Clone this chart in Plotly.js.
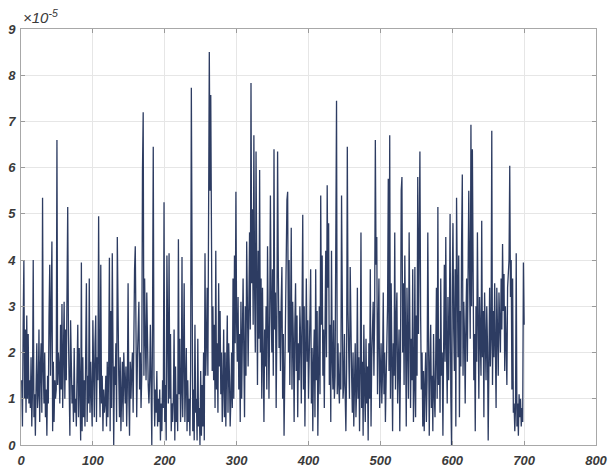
<!DOCTYPE html>
<html>
<head>
<meta charset="utf-8">
<script src="https://cdn.plot.ly/plotly-3.0.1.min.js"></script>
<style>
  html, body { margin: 0; padding: 0; background: #fff; }
  #chart { width: 608px; height: 470px; }
</style>
</head>
<body>
<div id="chart"></div>
<script>
// Signal amplitude per sample, in units of 1e-5 (samples 1..700)
const amplitudeE5 = [
  1.4, 0.4, 2.6, 4.0, 1.0, 2.5, 0.7, 2.8, 1.0, 2.4,
  0.9, 1.4, 0.8, 1.9, 0.4, 1.2, 4.0, 0.6, 1.1, 0.2,
  1.3, 2.2, 0.8, 1.1, 2.5, 0.5, 1.7, 2.2, 0.7, 5.35,
  1.6, 0.9, 2.0, 0.6, 1.2, 0.2, 1.5, 0.9, 2.8, 3.9,
  1.5, 2.9, 4.4, 0.3, 1.8, 0.5, 1.4, 1.0, 1.2, 6.6,
  1.3, 2.0, 1.7, 0.9, 2.6, 1.2, 3.05, 0.8, 1.6, 3.1,
  1.0, 2.5, 1.4, 3.3, 5.15, 2.4, 1.0, 0.2, 2.7, 1.1,
  0.9, 1.3, 0.5, 2.1, 0.7, 1.0, 0.4, 1.6, 2.6, 0.6,
  2.1, 1.2, 0.1, 3.95, 0.3, 1.9, 0.6, 1.4, 0.4, 2.0,
  3.5, 0.5, 1.5, 0.9, 3.6, 0.7, 1.8, 1.1, 0.4, 2.7,
  1.0, 0.6, 2.2, 2.8, 0.5, 1.9, 1.4, 4.95, 1.6, 0.6,
  3.9, 0.9, 1.5, 0.3, 1.2, 0.7, 0.9, 1.5, 0.4, 1.8,
  0.6, 1.7, 4.05, 0.3, 2.9, 0.8, 4.15, 1.2, 0.0, 1.7,
  1.3, 2.2, 0.5, 4.5, 1.7, 1.5, 0.6, 1.9, 0.3, 1.1,
  1.8, 0.5, 2.0, 1.4, 0.9, 1.7, 0.4, 1.3, 3.5, 1.1,
  0.2, 1.8, 1.0, 1.6, 2.0, 0.7, 2.7, 3.8, 4.3, 1.8,
  0.6, 1.9, 2.6, 3.1, 1.2, 2.0, 0.8, 1.5, 5.9, 7.2,
  1.5, 3.6, 2.3, 1.4, 3.3, 1.6, 1.3, 0.9, 1.4, 2.6,
  1.5, 0.0, 2.6, 6.45, 1.5, 0.4, 1.2, 0.7, 1.6, 0.4,
  1.0, 0.5, 1.2, 0.1, 0.9, 0.3, 1.4, 0.8, 5.25, 0.5,
  1.3, 0.1, 4.1, 1.8, 0.9, 4.15, 1.0, 2.4, 0.3, 0.9,
  0.5, 1.0, 2.5, 0.1, 1.7, 0.5, 1.1, 0.3, 4.45, 1.1,
  2.3, 0.5, 1.1, 4.07, 0.6, 1.8, 3.5, 0.5, 1.1, 2.1,
  0.3, 1.4, 0.5, 1.0, 0.2, 1.6, 7.73, 0.8, 0.3, 1.2,
  0.1, 2.6, 0.7, 1.0, 0.1, 2.3, 0.4, 0.8, 0.0, 1.6,
  0.2, 1.3, 0.4, 2.0, 0.1, 4.15, 1.5, 2.2, 3.4, 1.5,
  5.6, 8.5, 5.5, 7.57, 4.6, 1.6, 3.0, 1.4, 2.6, 0.8,
  4.2, 1.2, 2.2, 0.7, 3.5, 1.7, 2.9, 1.1, 2.0, 0.5,
  1.3, 2.5, 0.6, 2.0, 0.4, 1.2, 2.8, 0.7, 2.2, 1.5,
  0.4, 1.0, 2.0, 0.8, 3.6, 1.0, 4.1, 2.2, 5.48, 2.6,
  1.8, 3.2, 1.2, 2.4, 0.5, 3.1, 1.0, 2.3, 3.6, 2.0,
  0.6, 3.0, 1.5, 4.4, 2.8, 1.7, 3.0, 4.6, 2.5, 7.83,
  3.5, 5.1, 2.6, 6.7, 3.4, 2.0, 6.35, 2.9, 1.3, 4.2,
  2.3, 5.95, 2.0, 3.6, 1.0, 3.4, 2.1, 0.5, 2.5, 1.7,
  3.0, 1.2, 4.3, 2.2, 1.0, 2.8, 5.4, 3.1, 2.0, 3.8,
  1.5, 6.4, 2.5, 3.3, 0.8, 2.6, 6.35, 3.8, 2.1, 2.9,
  1.6, 3.1, 3.85, 1.0, 2.4, 0.2, 1.8, 2.5, 3.9, 5.3,
  5.48, 2.0, 4.0, 1.3, 2.6, 4.7, 1.2, 3.1, 2.2, 0.5,
  2.6, 3.5, 1.6, 2.8, 0.6, 2.2, 1.4, 3.0, 2.3, 0.9,
  2.9, 4.98, 1.2, 3.0, 0.4, 2.4, 3.6, 1.8, 2.7, 1.0,
  1.6, 2.8, 3.8, 0.9, 2.1, 0.3, 1.8, 2.5, 0.6, 3.8,
  1.4, 2.9, 0.2, 2.2, 3.0, 1.1, 5.4, 2.6, 4.1, 1.5,
  2.5, 0.8, 3.1, 4.2, 1.9, 5.62, 3.4, 4.8, 1.3, 2.6,
  0.5, 4.2, 1.9, 1.2, 2.7, 1.0, 1.5, 3.6, 7.45, 1.1,
  2.2, 1.3, 0.9, 2.0, 1.2, 5.4, 1.6, 1.0, 1.3, 2.4,
  1.1, 0.3, 1.6, 6.45, 2.9, 1.7, 1.0, 3.85, 1.8, 1.5,
  0.7, 2.0, 0.4, 1.5, 2.2, 0.6, 1.2, 3.4, 1.0, 1.9,
  0.3, 1.6, 4.6, 0.8, 1.8, 0.2, 2.6, 1.2, 0.5, 2.3,
  0.9, 1.7, 0.1, 2.2, 1.0, 3.8, 0.4, 1.9, 2.6, 3.1,
  1.5, 2.8, 6.6, 3.9, 4.5, 1.1, 2.5, 3.6, 0.8, 1.3,
  2.2, 0.9, 1.6, 3.3, 1.1, 2.0, 0.5, 1.4, 2.4, 3.0,
  5.76, 1.6, 6.7, 1.0, 3.5, 1.9, 0.3, 2.2, 1.5, 4.6,
  1.2, 2.7, 3.3, 0.9, 1.6, 2.5, 0.3, 1.8, 5.5, 5.8,
  2.0, 3.5, 1.3, 4.1, 2.4, 0.4, 3.4, 1.7, 1.0, 4.6,
  1.6, 0.8, 2.3, 1.4, 3.8, 0.5, 1.2, 3.85, 0.6, 2.8,
  1.5, 5.8, 2.4, 4.0, 6.35, 2.8, 1.2, 2.0, 0.4, 1.6,
  0.3, 1.3, 2.0, 0.5, 1.4, 4.6, 1.0, 0.2, 1.7, 2.6,
  0.8, 1.5, 0.3, 2.4, 1.1, 0.6, 1.9, 3.4, 1.0, 5.15,
  1.3, 2.3, 0.7, 3.6, 1.5, 2.0, 0.2, 2.6, 3.9, 1.8,
  4.5, 2.1, 0.9, 3.2, 1.4, 2.6, 5.0, 1.1, 0.0, 3.4,
  4.8, 2.5, 1.6, 3.8, 0.4, 5.35, 2.2, 1.9, 4.1, 0.6,
  2.9, 1.7, 4.4, 5.85, 1.5, 3.1, 2.4, 0.9, 2.7, 3.6,
  1.8, 4.2, 5.5, 3.7, 2.3, 6.93, 3.0, 6.4, 3.3, 1.4,
  2.4, 0.3, 3.0, 1.8, 4.6, 2.1, 1.0, 3.2, 2.6, 1.5,
  4.85, 1.9, 2.9, 0.6, 3.3, 2.0, 1.4, 3.0, 2.2, 0.1,
  2.6, 3.4, 1.7, 2.3, 6.8, 1.3, 2.9, 1.9, 3.5, 2.4,
  0.8, 3.4, 2.2, 1.5, 3.3, 2.7, 2.0, 3.6, 2.5, 4.35,
  2.9, 3.7, 1.6, 3.0, 2.2, 1.3, 3.4, 3.9, 4.0, 6.04,
  3.2, 4.0, 1.2, 3.6, 0.7, 0.9, 0.3, 0.8, 4.15, 0.4,
  0.9, 0.2, 1.1, 0.6, 1.0, 0.4, 0.8, 0.5, 3.95, 2.6
];

// Sample numbers 1..N for the horizontal axis
const sampleIndex = amplitudeE5.map((_, i) => i + 1);

const xTicks = [0, 100, 200, 300, 400, 500, 600, 700, 800];
const yTicks = [0, 1, 2, 3, 4, 5, 6, 7, 8, 9];
const exponentLabel = '\u00d710<sup>-5</sup>';

const tickFont = { family: 'Liberation Sans, Arial, sans-serif', size: 13, color: '#3a3a3a', style: 'italic', weight: 'bold' };

const axisCommon = {
  showgrid: true,
  gridcolor: '#e6e6e6',
  gridwidth: 1,
  showline: true,
  linecolor: '#a8a8a8',
  linewidth: 1,
  mirror: 'ticks',
  ticks: 'inside',
  ticklen: 4,
  tickcolor: '#9a9a9a',
  tickfont: tickFont,
  ticklabeloverflow: 'allow',
  zeroline: false,
  fixedrange: true
};

const trace = {
  x: sampleIndex,
  y: amplitudeE5,
  type: 'scatter',
  mode: 'lines',
  line: { color: '#2d3c62', width: 1.3 },
  hoverinfo: 'skip'
};

const layout = {
  width: 608,
  height: 470,
  margin: { l: 21, r: 12, t: 29, b: 25 },
  paper_bgcolor: '#ffffff',
  plot_bgcolor: '#ffffff',
  showlegend: false,
  xaxis: Object.assign({}, axisCommon, {
    range: [0, 800],
    tickvals: xTicks,
    ticktext: xTicks.map(String),
    ticklabelstandoff: 3
  }),
  yaxis: Object.assign({}, axisCommon, {
    range: [0, 9],
    tickvals: yTicks,
    ticktext: yTicks.map(String),
    ticklabelstandoff: 2
  }),
  annotations: [{
    xref: 'paper', yref: 'paper',
    x: 0.0, y: 1.0,
    xanchor: 'left', yanchor: 'bottom',
    yshift: 1, xshift: 0,
    showarrow: false,
    text: exponentLabel,
    font: { family: 'Liberation Sans, Arial, sans-serif', size: 15, color: '#3a3a3a', style: 'italic' }
  }]
};

Plotly.newPlot('chart', [trace], layout, { displayModeBar: false, staticPlot: true });
</script>
</body>
</html>
